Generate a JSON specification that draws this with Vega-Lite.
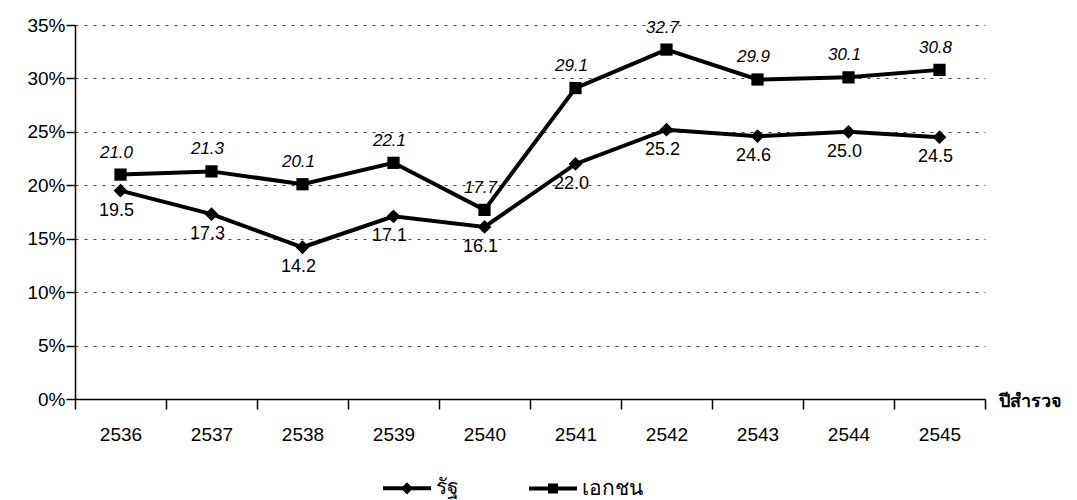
{
  "$schema": "https://vega.github.io/schema/vega-lite/v6.json",
  "autosize": "none",
  "width": 910,
  "height": 374,
  "padding": {"left": 75, "top": 25, "right": 92, "bottom": 101},
  "background": "white",
  "config": {
    "font": "Liberation Sans",
    "view": {"stroke": null},
    "axis": {"labelFont": "Liberation Sans", "titleFont": "Liberation Sans"}
  },
  "data": {
    "values": [
      {"year": "2536", "series": "รัฐ", "value": 19.5},
      {"year": "2537", "series": "รัฐ", "value": 17.3},
      {"year": "2538", "series": "รัฐ", "value": 14.2},
      {"year": "2539", "series": "รัฐ", "value": 17.1},
      {"year": "2540", "series": "รัฐ", "value": 16.1},
      {"year": "2541", "series": "รัฐ", "value": 22.0},
      {"year": "2542", "series": "รัฐ", "value": 25.2},
      {"year": "2543", "series": "รัฐ", "value": 24.6},
      {"year": "2544", "series": "รัฐ", "value": 25.0},
      {"year": "2545", "series": "รัฐ", "value": 24.5},
      {"year": "2536", "series": "เอกชน", "value": 21.0},
      {"year": "2537", "series": "เอกชน", "value": 21.3},
      {"year": "2538", "series": "เอกชน", "value": 20.1},
      {"year": "2539", "series": "เอกชน", "value": 22.1},
      {"year": "2540", "series": "เอกชน", "value": 17.7},
      {"year": "2541", "series": "เอกชน", "value": 29.1},
      {"year": "2542", "series": "เอกชน", "value": 32.7},
      {"year": "2543", "series": "เอกชน", "value": 29.9},
      {"year": "2544", "series": "เอกชน", "value": 30.1},
      {"year": "2545", "series": "เอกชน", "value": 30.8}
    ]
  },
  "encoding": {
    "x": {
      "field": "year", "type": "ordinal", "bandPosition": 0.5,
      "scale": {"type": "band", "paddingInner": 0, "paddingOuter": 0},
      "axis": {
        "title": "ปีสำรวจ", "titleAngle": 0, "titleAlign": "left", "titleBaseline": "middle",
        "titleX": 923, "titleY": 2, "titleFontSize": 18, "titleFontWeight": "bold", "titleColor": "black",
        "labelAngle": 0, "labelFontSize": 19, "labelColor": "black", "labelPadding": 16,
        "tickBand": "extent", "tickSize": 10, "tickColor": "black", "tickWidth": 1.5,
        "domainColor": "black", "domainWidth": 1.5, "grid": false
      }
    },
    "y": {
      "field": "value", "type": "quantitative",
      "scale": {"domain": [0, 35], "nice": false},
      "axis": {
        "title": null, "values": [0, 5, 10, 15, 20, 25, 30, 35],
        "labelExpr": "datum.value + '%'", "labelFontSize": 19, "labelColor": "black", "labelPadding": 1,
        "tickSize": 9, "tickColor": "black", "tickWidth": 1.5,
        "domainColor": "black", "domainWidth": 1.5,
        "grid": true, "gridColor": "#444", "gridDash": [3, 6], "gridWidth": 1
      }
    }
  },
  "layer": [
    {
      "mark": {"type": "line", "strokeWidth": 4},
      "encoding": {
        "color": {
          "field": "series", "type": "nominal",
          "scale": {"domain": ["รัฐ", "เอกชน"], "range": ["black", "black"]},
          "legend": {
            "orient": "none", "legendX": 320, "legendY": 451, "direction": "horizontal", "padding": 0,
            "title": null, "labelFontSize": 21, "labelColor": "black", "labelFont": "Liberation Sans",
            "symbolSize": 400, "symbolStrokeWidth": 4, "symbolStrokeColor": "black", "symbolFillColor": "black",
            "symbolType": {"expr": "datum.value == 'รัฐ' ? 'M-2.4,0H2.4M0,-0.33L0.33,0L0,0.33L-0.33,0Z' : 'M-2.4,0H2.4M-0.3,-0.3H0.3V0.3H-0.3Z'"},
            "columnPadding": 62, "labelOffset": 17
          }
        }
      }
    },
    {
      "transform": [{"filter": "datum.series == 'รัฐ'"}],
      "mark": {"type": "point", "shape": "diamond", "filled": true, "color": "black", "opacity": 1, "size": 190}
    },
    {
      "transform": [{"filter": "datum.series == 'เอกชน'"}],
      "mark": {"type": "point", "shape": "square", "filled": true, "color": "black", "opacity": 1, "size": 150}
    },
    {
      "transform": [{"filter": "datum.series == 'เอกชน'"}],
      "mark": {"type": "text", "fontSize": 17, "fontStyle": "italic", "color": "black", "dy": -22, "dx": -4},
      "encoding": {"text": {"field": "value", "type": "quantitative", "format": ".1f"}}
    },
    {
      "transform": [{"filter": "datum.series == 'รัฐ'"}],
      "mark": {"type": "text", "fontSize": 18, "color": "black", "dy": 20, "dx": -4},
      "encoding": {"text": {"field": "value", "type": "quantitative", "format": ".1f"}}
    }
  ]
}
